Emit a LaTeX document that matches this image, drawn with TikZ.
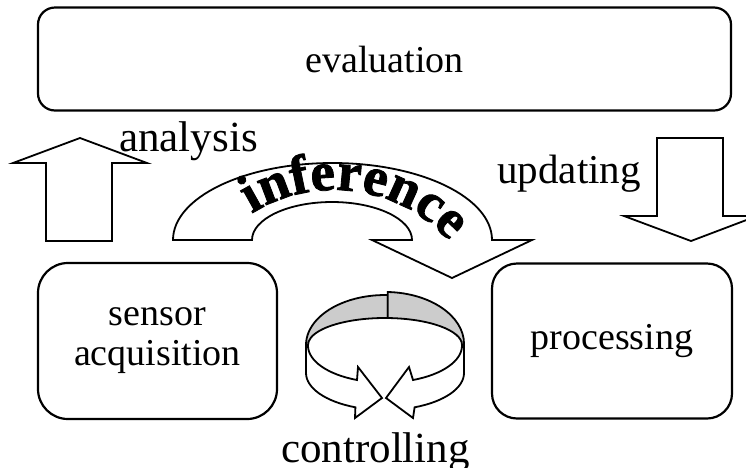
\documentclass[tikz,border=0pt]{standalone}
\usepackage{fontspec}
\setmainfont{Liberation Serif}
\newfontfamily\grasfont[FakeBold=1.5]{Liberation Serif}
\usepackage{tikz}
\usetikzlibrary{decorations.text}
\tikzset{
    boite/.style={
           rectangle,
           rounded corners=25pt,
           draw=black, line width=2.2pt,
           align=center,
           font=\fontsize{38}{40}\selectfont},
    fleche/.style={
           draw=black, line width=1.8pt, fill=white},
    bande/.style={
           draw=black, line width=1.8pt, fill=black!20},
    texte/.style={inner sep=0pt, font=\fontsize{43}{46}\selectfont}
    }

\begin{document}
\begin{tikzpicture}[x=1pt,y=-1pt]
      \useasboundingbox (0,0) rectangle (746,467);
      \node[boite, rounded corners=17pt, minimum width=693pt, minimum height=103pt] (0) at (384.5,59) {evaluation};
      \node[boite, rounded corners=30pt, minimum width=239pt, minimum height=156pt] (1) at (157.5,341) {sensor\\acquisition};
      \node[boite, minimum width=240pt, minimum height=155pt] (2) at (612,341) {processing};
      \node[texte, anchor=base west] (3) at (119,151) {analysis};
      \node[texte, anchor=base east, font=\fontsize{41}{44}\selectfont] (4) at (641,183) {updating};
      \node[texte, anchor=base] (5) at (375.5,462) {controlling};
      \draw[fleche] (46,241) -- (46,163) -- (13,163) -- (80,138) -- (147,163) -- (112,163) -- (112,241) -- cycle;
      \draw[fleche] (657,138) -- (723,138) -- (723,216) -- (757,216) -- (691,241) -- (624,216) -- (657,216) -- cycle;
      \draw[fleche] (173,240) arc[start angle=180, end angle=360, x radius=159.5, y radius=77] -- (532,240) -- (452,278) -- (372,240) -- (412,240) arc[start angle=0, end angle=-180, x radius=80, y radius=38] -- cycle;
      \path[decorate, decoration={text along path, text align=center,
            text={|\fontsize{55}{55}\grasfont\bfseries|inference}}]
            (334,345) ++(236:155) arc[start angle=236, end angle=320, radius=155];
      \draw[bande] (306,345) arc[start angle=180, end angle=272, x radius=79, y radius=50] -- (387.7,318) arc[start angle=272, end angle=180, x radius=77, y radius=27] -- cycle;
      \draw[bande] (387.8,292) arc[start angle=272, end angle=360, x radius=79, y radius=52] -- (462,345) arc[start angle=0, end angle=-88, x radius=77, y radius=27] -- cycle;
      \draw[fleche] (306,345) -- (306,373) arc[start angle=180, end angle=112, x radius=79, y radius=37] -- (355,418) -- (382,398) -- (358,367) -- (357,380) arc[start angle=111.3, end angle=180, x radius=77, y radius=37] -- cycle;
      \draw[fleche] (464,345) -- (464,373) arc[start angle=0, end angle=68, x radius=79, y radius=37] -- (413,418) -- (386,398) -- (409,367) -- (413,380) arc[start angle=68.7, end angle=0, x radius=77, y radius=37] -- cycle;
\end{tikzpicture}
\end{document}
